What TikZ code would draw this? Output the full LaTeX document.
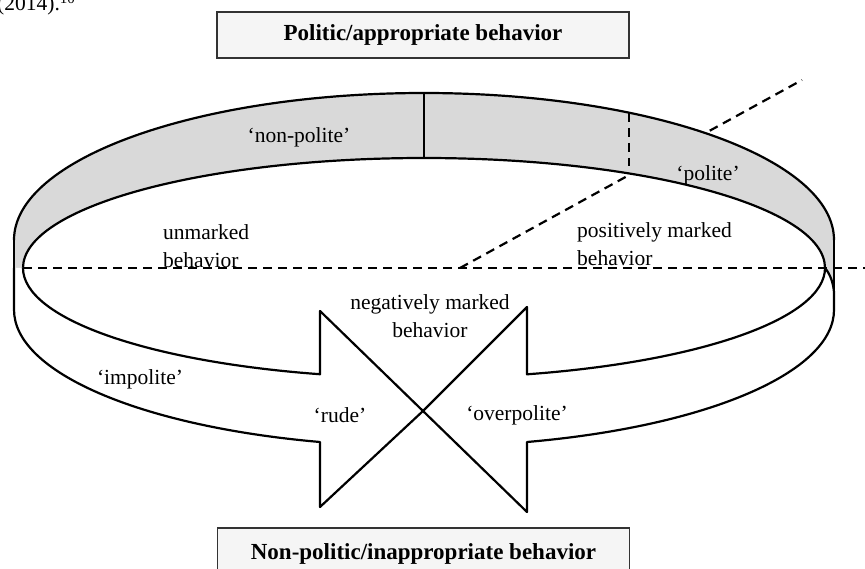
\documentclass[tikz,border=0pt]{standalone}
\usepackage{fontspec}
\setmainfont{Liberation Serif}
\usepackage{tikz}
\usetikzlibrary{calc}

\begin{document}
\begin{tikzpicture}[x=1pt,y=-1pt]
\tikzstyle{band} = [draw=black, line width=2.2pt, line join=round]
\tikzstyle{dashline} = [draw=black, line width=2.2pt, dash pattern=on 9pt off 6pt]
\tikzstyle{bandtext} = [inner sep=0pt, font=\fontsize{21.5}{28}\selectfont]
\tikzstyle{titlebox} = [rectangle, draw=black!80, line width=1.3pt, fill=black!4, minimum width=412pt, minimum height=46pt, text centered, font=\fontsize{23}{26}\selectfont\bfseries]

\useasboundingbox (0,0) rectangle (865,569);
\clip (0,0) rectangle (865,569);

\coordinate (axisStart) at (460,268);
\coordinate (axisEnd) at (802,80);
\coordinate (tip) at (423,411);

\draw [dashline] (axisStart) -- (axisEnd);

\fill [black!15] (14,268) -- (14,240) arc[start angle=180, end angle=360, x radius=410, y radius=147] -- (834,268) -- (825,268) arc[start angle=360, end angle=180, x radius=401, y radius=110] -- cycle;
\draw [band] (14,240) arc[start angle=180, end angle=360, x radius=410, y radius=147];
\draw [band] (825,268) arc[start angle=360, end angle=180, x radius=401, y radius=110];

\draw [band, fill=white] (23,268) arc[start angle=180, end angle=105.03, x radius=401, y radius=110] -- (320,311) -- (tip) -- (320,507) -- (320,442) arc[start angle=104.7, end angle=180, x radius=410, y radius=136.5] -- (14,268);
\draw [band, fill=white] (825,268) arc[start angle=0, end angle=75.12, x radius=401, y radius=110] -- (527,307) -- (tip) -- (527,512) -- (527,442) arc[start angle=75.45, end angle=0, x radius=410, y radius=136.5] -- (834,292);

\fill [black!15] (825,268) .. controls (830,274) and (833,282) .. (834,292) -- (834,268) -- cycle;
\draw [band] (825,268) .. controls (830,274) and (833,282) .. (834,292);
\draw [band] (14,240) -- (14,310);
\draw [band] (834,240) -- (834,310);

\draw [dashline] (23,268) -- (870,268);
\draw [band] (424,93) -- (424,158);
\draw [dashline] (629,113) -- (629,166);

\node (nonPolite) [bandtext] at (299,137) {‘non-polite’};
\node (polite) [bandtext] at (708,175) {‘polite’};
\node (unmarked) [bandtext, align=left, anchor=west] at (163,246) {unmarked\\behavior};
\node (positive) [bandtext, align=left, anchor=west] at (577,244) {positively marked\\behavior};
\node (negative) [bandtext, align=center] at (430,316) {negatively marked\\behavior};
\node (impolite) [bandtext] at (140,379) {‘impolite’};
\node (rude) [bandtext] at (340,415) {‘rude’};
\node (overpolite) [bandtext] at (517,415) {‘overpolite’};

\node (politicBox) [titlebox] at (423,35) {Politic/appropriate behavior};
\node (nonPoliticBox) [titlebox, minimum height=52pt] at (423.5,554) {Non-politic/inappropriate behavior};
\node (citation) [bandtext, anchor=base west] at (-3,11) {(2014).\textsuperscript{10}};

\end{tikzpicture}
\end{document}
